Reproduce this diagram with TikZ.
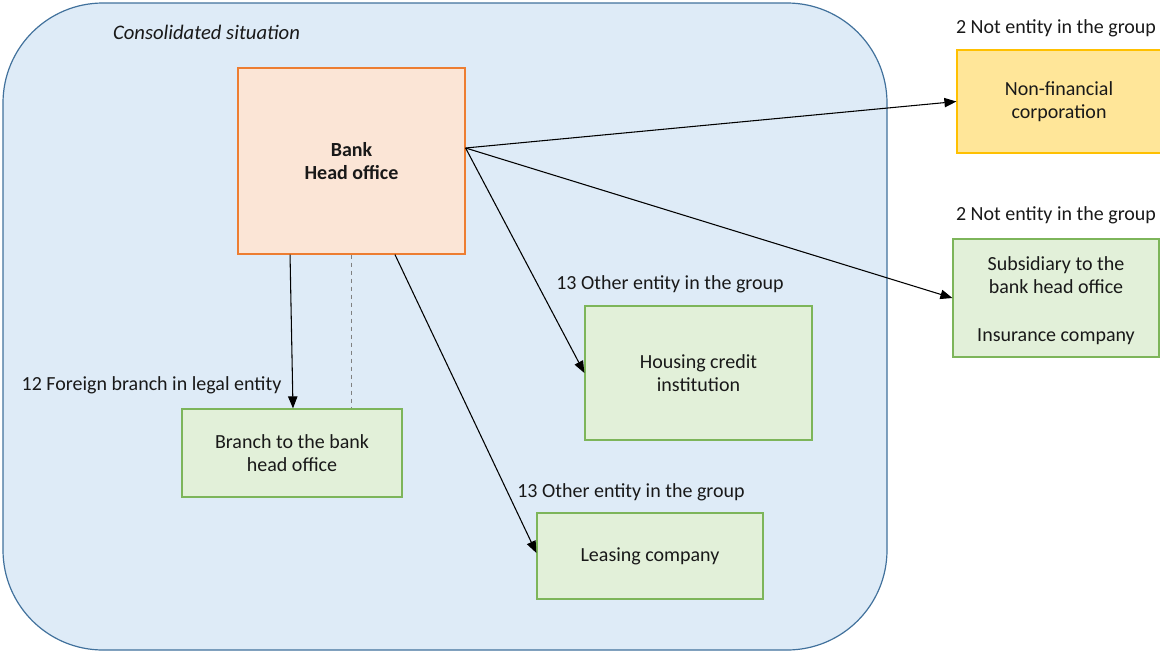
\documentclass[tikz,border=0pt]{standalone}
\usepackage{fontspec}
\setmainfont{Carlito}
\usetikzlibrary{arrows.meta,calc}
\definecolor{cfill}{HTML}{DEEBF7}
\definecolor{cline}{HTML}{41719C}
\definecolor{ofill}{HTML}{FBE5D6}
\definecolor{oline}{HTML}{ED7D31}
\definecolor{yfill}{HTML}{FFE699}
\definecolor{yline}{HTML}{FFC000}
\definecolor{gfill}{HTML}{E2F0D9}
\definecolor{gline}{HTML}{7DB55A}
\begin{document}
\begin{tikzpicture}[x=0.75pt,y=-0.75pt,
  every node/.style={font=\fontsize{15}{17.25}\selectfont, inner sep=0pt, text=black!90},
  box/.style={draw, line width=0.9pt, align=center},
  bankbox/.style={box, fill=ofill, draw=oline},
  ybox/.style={box, fill=yfill, draw=yline},
  gbox/.style={box, fill=gfill, draw=gline},
  lbl/.style={anchor=center},
  conn/.style={draw=black, line width=0.8pt, -{Triangle[length=9pt,width=7pt]}}
]
\useasboundingbox (0,0) rectangle (1160,653);
% consolidated area
\draw[fill=cfill, draw=cline, line width=0.9pt, rounded corners=75pt] (3,3) rectangle (887,650);
\node[lbl, font=\fontsize{15.5}{17}\selectfont\itshape] (cons) at (206.5,32) {Consolidated situation};

% nodes
\node[bankbox, minimum width=170.25pt, minimum height=139.5pt] (bank) at (351.5,161)
  {\textbf{Bank}\\\textbf{Head office}};
\node[ybox, minimum width=153pt, minimum height=77.25pt] (nonfin) at (1059,101.5)
  {Non-financial\\corporation};
\node[gbox, minimum width=154.5pt, minimum height=88.5pt] (subs) at (1056,298)
  {\\[-3pt]Subsidiary to the\\bank head office\\[19pt]Insurance company};
\node[gbox, minimum width=170.25pt, minimum height=100.5pt] (housing) at (698.5,373)
  {Housing credit\\institution};
\node[gbox, minimum width=165pt, minimum height=66pt] (branch) at (292,453)
  {Branch to the bank\\head office};
\node[gbox, minimum width=169.5pt, minimum height=64.5pt] (leasing) at (650,556)
  {Leasing company};

% labels
\node[lbl] (l1) at (1056,28) {2 Not entity in the group};
\node[lbl] (l2) at (1056,215) {2 Not entity in the group};
\node[lbl] (l3) at (670,284) {13 Other entity in the group};
\node[lbl] (l4) at (151.5,385) {12 Foreign branch in legal entity};
\node[lbl] (l5) at (631,492) {13 Other entity in the group};

% connectors
\coordinate (be) at ([yshift=9.75pt]bank.east);
\draw[conn] (be) -- (nonfin.west);
\draw[conn] (be) -- (subs.west);
\draw[conn] (be) -- (housing.west);
\draw[conn] ([xshift=-46.1pt]bank.south) -- ([xshift=0.75pt]branch.north);
\draw[conn] ([xshift=32.6pt]bank.south) -- ([yshift=2.25pt]leasing.west);
\draw[gray, dashed, line width=0.8pt] (bank.south) -- (bank.south |- branch.north);
\end{tikzpicture}
\end{document}
